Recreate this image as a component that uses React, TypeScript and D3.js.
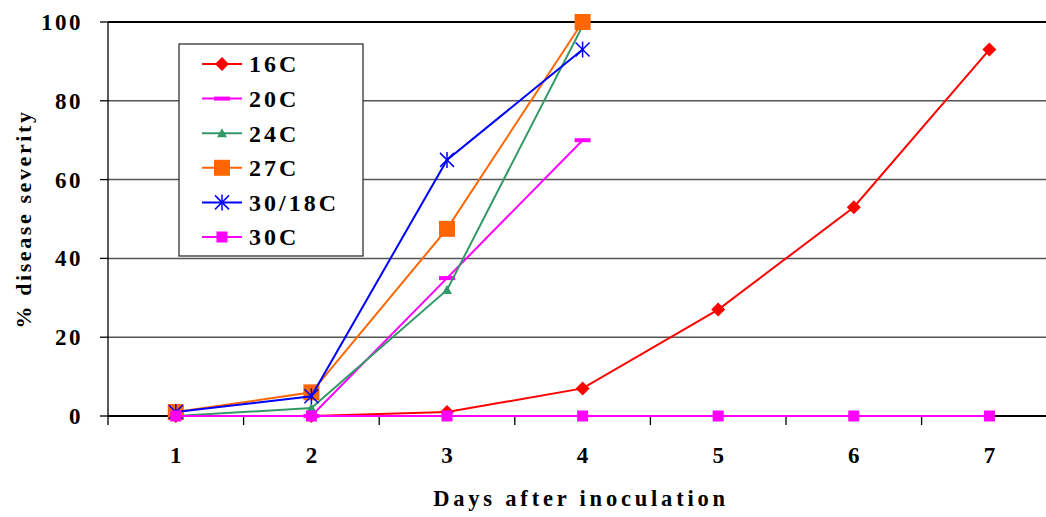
import React from "react";
import * as d3 from "d3";

const days = ["1", "2", "3", "4", "5", "6", "7"];
const yTicks = [0, 20, 40, 60, 80, 100];

const s16C = [0, 0, 1, 7, 27, 53, 93];
const s20C = [0, 0, 35, 70];
const s24C = [0, 2, 32, 99];
const s27C = [1, 6, 47.5, 100];
const s3018C = [1, 5, 65, 93];
const s30C = [0, 0, 0, 0, 0, 0, 0];

const seriesNames = ["16C", "20C", "24C", "27C", "30/18C", "30C"];
const seriesValues = [s16C, s20C, s24C, s27C, s3018C, s30C];
const seriesColors = ["#FF0000", "#FF00FF", "#339966", "#FF6600", "#0000FF", "#FF00FF"];
const seriesMarkers = ["diamond", "dash", "triangle", "bigsquare", "asterisk", "square"];

const W = 1046;
const H = 517;
const left = 108;
const bandW = 135.6;
const top = 22;
const bottom = 416;

function Marker({ kind, x, y, color }: { kind: string; x: number; y: number; color: string }) {
  switch (kind) {
    case "diamond":
      return <path d={`M${x},${y - 7}L${x + 7},${y}L${x},${y + 7}L${x - 7},${y}Z`} fill={color} />;
    case "dash":
      return <rect x={x - 8} y={y - 2} width={16} height={4} fill={color} />;
    case "triangle":
      return <path d={`M${x},${y - 5}L${x + 5},${y + 4}L${x - 5},${y + 4}Z`} fill={color} />;
    case "bigsquare":
      return <rect x={x - 8} y={y - 8} width={16} height={16} fill={color} />;
    case "square":
      return <rect x={x - 5.5} y={y - 5.5} width={11} height={11} fill={color} />;
    case "asterisk":
      return (
        <g stroke={color} strokeWidth={1.5}>
          <line x1={x - 7} y1={y - 7} x2={x + 7} y2={y + 7} />
          <line x1={x - 7} y1={y + 7} x2={x + 7} y2={y - 7} />
          <line x1={x} y1={y - 8} x2={x} y2={y + 8} />
        </g>
      );
    default:
      return null;
  }
}

export default function App() {
  const x = d3.scaleBand<string>().domain(days).range([left, left + bandW * days.length]).padding(0);
  const y = d3.scaleLinear().domain([0, 100]).range([bottom, top]);
  const cx = (i: number) => (x(days[i]) as number) + x.bandwidth() / 2;
  const line = d3
    .line<number>()
    .x((_, i) => cx(i))
    .y((d) => y(d));

  const font = "'Liberation Serif', 'Times New Roman', serif";
  const boundaries = d3.range(days.length + 1).map((i) => left + i * x.bandwidth());

  const legX = 179;
  const legY = 44;
  const legRowH = 34.6;

  return (
    <svg
      width={W}
      height={H}
      style={{ position: "absolute", left: 0, top: 0, background: "#fff" }}
      fontFamily={font}
    >
      <rect width={W} height={H} fill="#fff" />
      {/* gridlines */}
      {yTicks.map((t) =>
        t === 0 ? null : (
          <line
            key={t}
            x1={left}
            x2={W}
            y1={y(t)}
            y2={y(t)}
            stroke={t === 100 ? "#000" : "#555"}
            strokeWidth={t === 100 ? 2 : 1.5}
          />
        )
      )}
      {/* y axis */}
      <line x1={left} x2={left} y1={top} y2={bottom} stroke="#000" strokeWidth={1.3} />
      {yTicks.map((t) => (
        <g key={"yt" + t}>
          <line x1={left - 8} x2={left} y1={y(t)} y2={y(t)} stroke="#000" strokeWidth={1.3} />
          <text
            x={83}
            y={y(t)}
            dy="0.35em"
            textAnchor="end"
            fontSize={23}
            fontWeight="bold"
            letterSpacing={2.5}
          >
            {t}
          </text>
        </g>
      ))}
      {/* x axis */}
      <line x1={left} x2={W} y1={bottom} y2={bottom} stroke="#000" strokeWidth={2} />
      {boundaries.map((b, i) => (
        <line key={"xt" + i} x1={b} x2={b} y1={bottom} y2={bottom + 9} stroke="#000" strokeWidth={1.3} />
      ))}
      {days.map((d, i) => (
        <text key={"xl" + d} x={cx(i)} y={463} textAnchor="middle" fontSize={23} fontWeight="bold">
          {d}
        </text>
      ))}
      {/* axis titles */}
      <text
        x={581}
        y={506}
        textAnchor="middle"
        fontSize={22.5}
        fontWeight="bold"
        letterSpacing={3.8}
      >
        Days after inoculation
      </text>
      <text
        transform={`translate(31,219) rotate(-90)`}
        textAnchor="middle"
        fontSize={22}
        fontWeight="bold"
        letterSpacing={2.6}
      >
        % disease severity
      </text>
      {/* series */}
      {seriesValues.map((vals, si) => (
        <g key={seriesNames[si]}>
          <path d={line(vals) || ""} fill="none" stroke={seriesColors[si]} strokeWidth={2} />
          {vals.map((v, i) => (
            <Marker key={i} kind={seriesMarkers[si]} x={cx(i)} y={y(v)} color={seriesColors[si]} />
          ))}
        </g>
      ))}
      {/* legend */}
      <rect x={legX} y={legY} width={184} height={212} fill="#fff" stroke="#333" strokeWidth={1.3} />
      {seriesNames.map((n, i) => {
        const ly = 64 + i * legRowH;
        return (
          <g key={"leg" + n}>
            <line x1={202} x2={242} y1={ly} y2={ly} stroke={seriesColors[i]} strokeWidth={2} />
            <Marker kind={seriesMarkers[i]} x={222} y={ly} color={seriesColors[i]} />
            <text x={249} y={ly} dy="0.35em" fontSize={24} fontWeight="bold" letterSpacing={3}>
              {n}
            </text>
          </g>
        );
      })}
    </svg>
  );
}
